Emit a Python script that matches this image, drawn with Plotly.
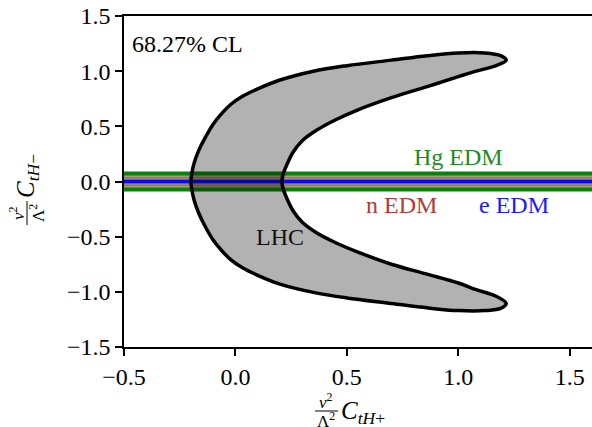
import plotly.graph_objects as go

# ---------------- data ----------------
x_range = [-0.5, 1.6]
y_range = [-1.5, 1.5]
x_tick_vals = [-0.5, 0.0, 0.5, 1.0, 1.5]
x_tick_text = ["\u22120.5", "0.0", "0.5", "1.0", "1.5"]
y_tick_vals = [-1.5, -1.0, -0.5, 0.0, 0.5, 1.0, 1.5]
y_tick_text = ["\u22121.5", "\u22121.0", "\u22120.5", "0.0", "0.5", "1.0", "1.5"]

# EDM bands (half widths of the horizontal stripes, outermost first)
band_half_width = [0.090, 0.054, 0.036, 0.027, 0.018]
band_colors = ["#0c800c", "#a69c78", "#7e5a3a", "#c0b693", "#0808f2"]

# LHC 68.27% CL contour (closed path: outer upper -> inner upper -> inner lower -> outer lower)
lhc_x = [-0.200, -0.195, -0.185, -0.165, -0.135, -0.100, -0.060, -0.020, 0.030, 0.100,
         0.200, 0.350, 0.500, 0.700, 0.860, 1.000, 1.120, 1.190, 1.215,
         1.170, 1.080, 1.000, 0.860, 0.700, 0.550, 0.450, 0.360, 0.300, 0.260, 0.230,
         0.212, 0.209,
         0.212, 0.230, 0.260, 0.300, 0.360, 0.450, 0.550, 0.700, 0.860, 1.000, 1.080,
         1.170, 1.215,
         1.190, 1.120, 1.000, 0.860, 0.700, 0.500, 0.350, 0.200, 0.100, 0.030, -0.020,
         -0.060, -0.100, -0.135, -0.165, -0.185, -0.195, -0.200]
lhc_y = [0.000, 0.080, 0.170, 0.280, 0.400, 0.520, 0.620, 0.700, 0.770, 0.840,
         0.920, 1.000, 1.050, 1.100, 1.140, 1.165, 1.165, 1.140, 1.100,
         1.050, 1.000, 0.950, 0.860, 0.760, 0.650, 0.560, 0.460, 0.370, 0.270, 0.150,
         0.050, 0.000,
         -0.050, -0.150, -0.270, -0.370, -0.460, -0.555, -0.640, -0.750, -0.840, -0.920,
         -0.980, -1.040, -1.105,
         -1.150, -1.170, -1.170, -1.145, -1.105, -1.055, -1.005, -0.930, -0.850, -0.780,
         -0.710, -0.630, -0.530, -0.410, -0.285, -0.172, -0.080, 0.000]

labels = ["Hg EDM", "n EDM", "e EDM", "LHC"]
label_x = [1.0, 0.747, 1.249, 0.2]
label_y = [0.226, -0.21, -0.21, -0.50]
label_colors = ["#1f8a1f", "#b33a3a", "#1a1aff", "#111111"]

FONT = "Liberation Serif"
FS = 24

fig = go.Figure()

for hw, col in zip(band_half_width, band_colors):
    fig.add_trace(go.Scatter(
        x=[x_range[0], x_range[1], x_range[1], x_range[0], x_range[0]],
        y=[-hw, -hw, hw, hw, -hw],
        mode="lines", fill="toself", fillcolor=col,
        line=dict(width=0), hoverinfo="skip", showlegend=False))

fig.add_trace(go.Scatter(
    x=lhc_x, y=lhc_y, mode="lines", fill="toself",
    fillcolor="rgba(0,0,0,0.3)",
    line=dict(color="black", width=3.5, shape="spline", smoothing=1.0),
    hoverinfo="skip", showlegend=False))

for t, xx, yy, c in zip(labels, label_x, label_y, label_colors):
    fig.add_annotation(x=xx, y=yy, text=t, showarrow=False,
                       font=dict(family=FONT, size=FS, color=c),
                       xanchor="center", yanchor="middle")

fig.add_annotation(x=-0.473, y=1.25, text="68.27% CL", showarrow=False,
                   font=dict(family=FONT, size=FS, color="black"),
                   xanchor="left", yanchor="middle")

W, H = 592, 427
L, R, T, B = 124, 0, 16, 80
PW, PH = W - L - R, H - T - B


def px(xp):
    return (xp - L) / PW


def py(yp):
    return (H - B - yp) / PH


# x-axis title: fraction v^2/Lambda^2 followed by C_tH+
fig.add_annotation(xref="paper", yref="paper", x=px(326), y=py(401),
                   text="<i>v</i><sup>2</sup>", showarrow=False,
                   font=dict(family=FONT, size=17, color="black"),
                   xanchor="center", yanchor="middle")
fig.add_annotation(xref="paper", yref="paper", x=px(326), y=py(420),
                   text="\u039b<sup>2</sup>", showarrow=False,
                   font=dict(family=FONT, size=17, color="black"),
                   xanchor="center", yanchor="middle")
fig.add_shape(type="line", xref="paper", yref="paper",
              x0=px(315), x1=px(338), y0=py(411), y1=py(411),
              line=dict(color="black", width=1))
fig.add_annotation(xref="paper", yref="paper", x=px(339), y=py(413),
                   text="<i>C</i><sub><i>tH</i>+</sub>", showarrow=False,
                   font=dict(family=FONT, size=25, color="black"),
                   xanchor="left", yanchor="middle")

# y-axis title (rotated)
fig.add_annotation(xref="paper", yref="paper", x=px(17), y=py(213),
                   text="<i>v</i><sup>2</sup>", showarrow=False, textangle=-90,
                   font=dict(family=FONT, size=17, color="black"),
                   xanchor="center", yanchor="middle")
fig.add_annotation(xref="paper", yref="paper", x=px(37), y=py(213),
                   text="\u039b<sup>2</sup>", showarrow=False, textangle=-90,
                   font=dict(family=FONT, size=17, color="black"),
                   xanchor="center", yanchor="middle")
fig.add_shape(type="line", xref="paper", yref="paper",
              x0=px(27), x1=px(27), y0=py(201), y1=py(225),
              line=dict(color="black", width=1))
fig.add_annotation(xref="paper", yref="paper", x=px(27), y=py(200),
                   text="<i>C</i><sub><i>tH</i>\u2212</sub>", showarrow=False, textangle=-90,
                   font=dict(family=FONT, size=25, color="black"),
                   xanchor="center", yanchor="bottom")

axis_common = dict(showgrid=False, zeroline=False, showline=True, linecolor="black",
                   linewidth=1.5, ticks="outside", ticklen=7, tickwidth=1.5,
                   tickcolor="black",
                   tickfont=dict(family=FONT, size=FS, color="black"))

fig.update_layout(
    width=W, height=H,
    margin=dict(l=L, r=R, t=T, b=B, autoexpand=False),
    paper_bgcolor="white", plot_bgcolor="white",
    xaxis=dict(range=x_range, tickvals=x_tick_vals, ticktext=x_tick_text,
               mirror=True, **axis_common),
    yaxis=dict(range=y_range, tickvals=y_tick_vals, ticktext=y_tick_text,
               mirror=False, **axis_common),
    showlegend=False,
)

fig.write_html("out.html", config={"displayModeBar": False},
               post_script="document.body.style.margin='0';document.body.style.overflow='hidden';")
